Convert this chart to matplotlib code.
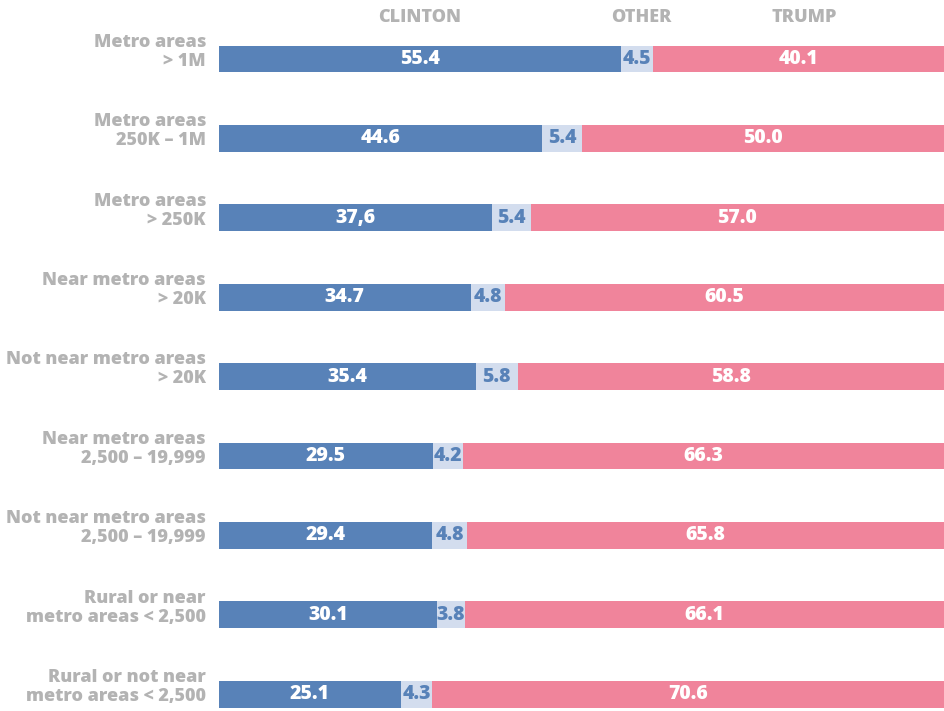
import matplotlib
matplotlib.use("Agg")
import matplotlib.pyplot as plt
import numpy as np

plt.rcParams['font.family'] = ['Open Sans', 'DejaVu Sans']

# data
categories = [
    "Metro areas\n> 1M",
    "Metro areas\n250K – 1M",
    "Metro areas\n> 250K",
    "Near metro areas\n> 20K",
    "Not near metro areas\n> 20K",
    "Near metro areas\n2,500 – 19,999",
    "Not near metro areas\n2,500 – 19,999",
    "Rural or near\nmetro areas < 2,500",
    "Rural or not near\nmetro areas < 2,500",
]
clinton = [55.4, 44.6, 37.6, 34.7, 35.4, 29.5, 29.4, 30.1, 25.1]
other = [4.5, 5.4, 5.4, 4.8, 5.8, 4.2, 4.8, 3.8, 4.3]
trump = [40.1, 50.0, 57.0, 60.5, 58.8, 66.3, 65.8, 66.1, 70.6]
clinton_labels = ["55.4", "44.6", "37,6", "34.7", "35.4", "29.5", "29.4", "30.1", "25.1"]

blue = "#5882b8"
light = "#d3ddee"
pink = "#f0849b"
grey = "#b3b3b3"

fig = plt.figure(figsize=(9.44, 7.11), dpi=100)
ax = fig.add_axes([219 / 944, 0, 725 / 944, 1])

y = np.arange(len(categories))
c = np.array(clinton)
o = np.array(other)
t = np.array(trump)
tot = c + o + t
cs = c / tot * 100
os_ = o / tot * 100
ts = t / tot * 100

fs = 13
vfs = 14
wt = 800

h = 0.34
ax.barh(y, cs, height=h, color=blue, linewidth=0)
ax.barh(y, os_, left=cs, height=h, color=light, linewidth=0)
ax.barh(y, ts, left=cs + os_, height=h, color=pink, linewidth=0)

for i in range(len(categories)):
    ax.text(cs[i] / 2, y[i], clinton_labels[i], ha='center', va='center',
            color='white', fontsize=vfs, fontweight=wt)
    ax.text(cs[i] + os_[i] / 2, y[i], "%.1f" % other[i], ha='center', va='center',
            color=blue, fontsize=vfs, fontweight=wt)
    ax.text(cs[i] + os_[i] + ts[i] / 2, y[i], "%.1f" % trump[i], ha='center', va='center',
            color='white', fontsize=vfs, fontweight=wt)
    ax.text(-1.8, y[i] - 0.09, categories[i], ha='right', va='center',
            color=grey, fontsize=fs, fontweight=wt, linespacing=1.15)

top = -59 / 79.4
bottom = (711 - 59) / 79.4
ax.set_ylim(bottom, top)
ax.set_xlim(0, 100)
ax.axis('off')

# column headers
fig.text(420 / 944, 1 - 18 / 711, "CLINTON", ha='center', va='center',
         color=grey, fontsize=fs, fontweight=wt)
fig.text(641 / 944, 1 - 18 / 711, "OTHER", ha='center', va='center',
         color=grey, fontsize=fs, fontweight=wt)
fig.text(804 / 944, 1 - 18 / 711, "TRUMP", ha='center', va='center',
         color=grey, fontsize=fs, fontweight=wt)

fig.savefig("out.png", dpi=100, facecolor='white')
